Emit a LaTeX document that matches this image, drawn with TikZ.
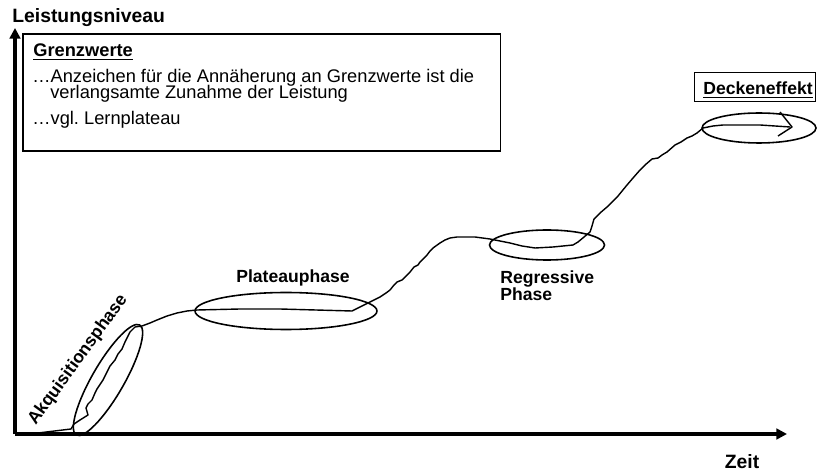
\documentclass[tikz,border=0pt]{standalone}
\usepackage{fontspec}
\setmainfont{Liberation Sans}
\frenchspacing
\usetikzlibrary{arrows.meta,shapes.geometric}
\tikzstyle{achse} = [line width=1.9pt, -{Triangle[length=6pt,width=6pt]}]
\tikzstyle{kurve} = [line width=0.8pt, line join=round]
\tikzstyle{phase} = [draw, ellipse, line width=0.9pt, inner sep=0pt]
\tikzstyle{kasten} = [draw, line width=0.9pt, rectangle, inner sep=0pt]
\tikzstyle{titel} = [font=\fontsize{11}{11}\selectfont\bfseries]
\tikzstyle{marke} = [font=\fontsize{10}{10}\selectfont\bfseries, align=left]
\tikzstyle{zeile} = [font=\fontsize{10.4}{12}\selectfont, anchor=base west, inner sep=0pt]

\begin{document}
\begin{tikzpicture}[x=0.02cm, y=-0.02cm]
\useasboundingbox (0,0) rectangle (817,472);

% Achsen
\coordinate (ursprung) at (15,434);
\coordinate (yende) at (15,28);
\coordinate (xende) at (787,434);
\draw [achse] (ursprung) -- (yende);
\draw [achse] (ursprung) -- (xende);
\node (leistung) [titel, anchor=base west, inner sep=0pt] at (12,23) {Leistungsniveau};
\node (zeit) [titel, anchor=base, inner sep=0pt] at (742,468) {Zeit};

% Grenzwerte
\node (grenzbox) [kasten, anchor=north west, minimum width=9.56cm, minimum height=2.34cm] at (22,33) {};
\node (grenztitel) [zeile, font=\fontsize{10.4}{12}\selectfont\bfseries] at (33,57) {\underline{Grenzwerte}};
\node (grenzeins) [zeile] at (32,83) {…Anzeichen für die Annäherung an Grenzwerte ist die};
\node (grenzzwei) [zeile] at (50,99) {verlangsamte Zunahme der Leistung};
\node (grenzdrei) [zeile] at (32,125) {…vgl. Lernplateau};

% Lernkurve
\draw [kurve] (38,433) -- (71,429) -- (74,424) -- (80,420) -- (88,415) -- (86,408) -- (88,404)
  -- (92,400) -- (95,393) -- (97,389) -- (103,380) -- (107,372) -- (110,366) -- (115,360)
  -- (118,354) -- (122,349) -- (125,342) -- (127,338) -- (130,332) -- (135,327) -- (142,326)
  -- (150,323) -- (157,320) -- (167,316) -- (177,313) -- (187,311) -- (197,310) -- (240,309)
  -- (280,309) -- (352,311) -- (362,306) -- (370,302) -- (376,299) -- (380,297) -- (386,293)
  -- (390,290) -- (394,285) -- (397,282) -- (402,280) -- (405,277) -- (410,272) -- (414,267)
  -- (418,265) -- (420,262) -- (424,258) -- (427,255) -- (430,251) -- (433,248) -- (440,243)
  -- (445,240) -- (450,238) -- (457,237) -- (475,237) -- (490,239) -- (510,243) -- (522,246)
  -- (535,248) -- (553,247) -- (573,245) -- (578,242) -- (584,237) -- (590,232) -- (592,226)
  -- (594,219) -- (600,213) -- (607,207) -- (612,202) -- (618,196) -- (627,185) -- (633,178)
  -- (640,170) -- (645,165) -- (652,159) -- (658,158) -- (662,155) -- (667,152) -- (675,145)
  -- (681,142) -- (687,138) -- (692,136) -- (697,133) -- (703,128) -- (713,126) -- (723,125)
  -- (760,125) -- (790,127);
\draw [kurve] (780,112) -- (792,127) -- (778,136);

% Phasen
\node (akquisition) [phase, rotate=60, minimum width=2.54cm, minimum height=0.64cm] at (108,380) {};
\node (akquitext) [marke, rotate=54] at (78,360) {Akquisitionsphase};

\node (plateau) [phase, minimum width=3.64cm, minimum height=0.74cm] at (286,311) {};
\node (plateautext) [marke, anchor=base, inner sep=0pt] at (293,283) {Plateauphase};

\node (regression) [phase, minimum width=2.3cm, minimum height=0.6cm] at (547,245) {};
\node (regressiontext) [marke, anchor=north west, inner sep=0pt] at (500,270) {Regressive\\Phase};

\node (decke) [phase, minimum width=2.28cm, minimum height=0.6cm] at (759,128) {};
\node (deckebox) [kasten, minimum width=2.42cm, minimum height=0.58cm] at (755,87) {};
\node (decketext) [marke, anchor=base, inner sep=0pt] at (758,95) {\underline{Deckeneffekt}};
\end{tikzpicture}
\end{document}
